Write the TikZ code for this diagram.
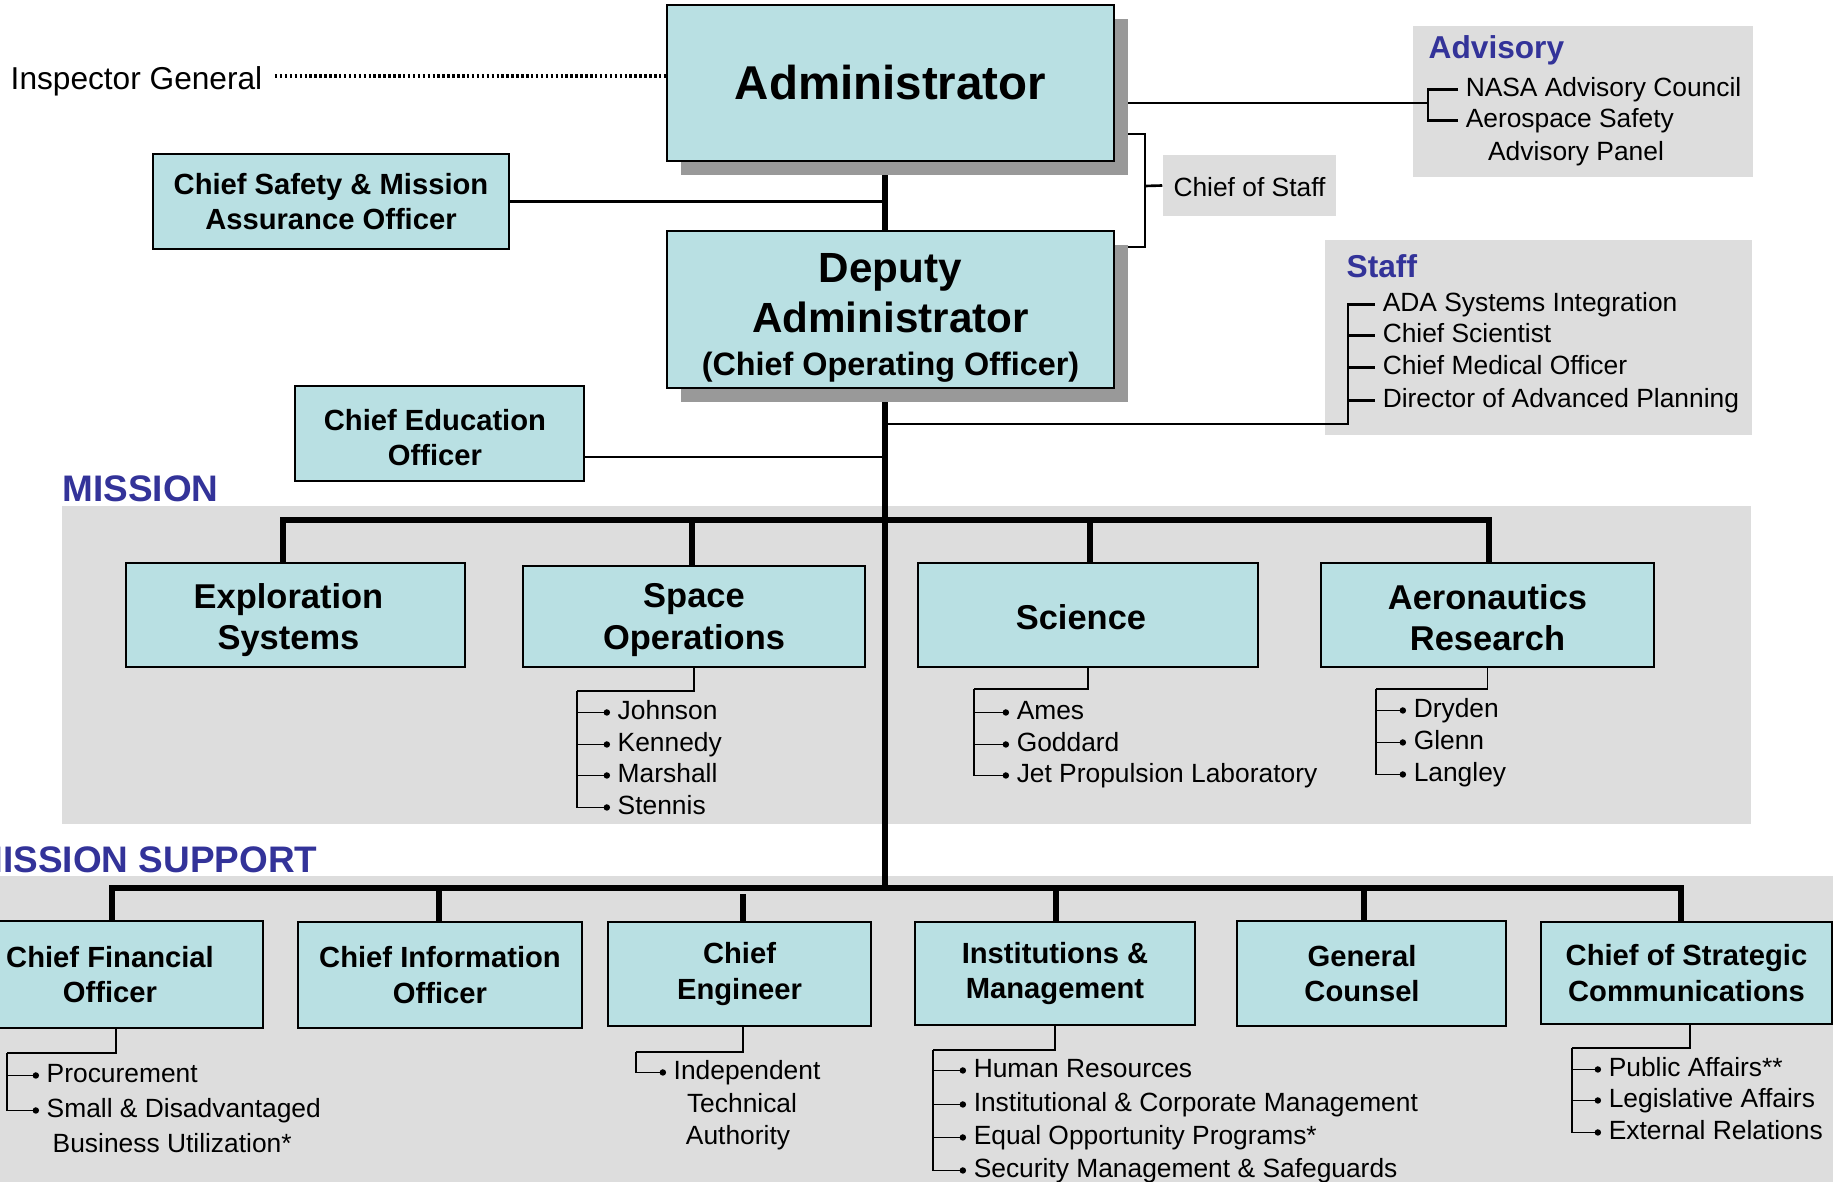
\documentclass[tikz,border=0pt]{standalone}
\usepackage{fontspec}
\setmainfont{Liberation Sans}
\usetikzlibrary{shadows,arrows.meta}

\definecolor{unitfill}{RGB}{185,224,227}
\definecolor{panelgray}{RGB}{221,221,221}
\definecolor{shadowgray}{RGB}{153,153,153}
\definecolor{headblue}{RGB}{51,51,153}

\pgfdeclarelayer{panels}
\pgfdeclarelayer{links}
\pgfsetlayers{panels,links,main}

% taller first line, so the text sits a little lower in its box
\newcommand{\lift}[1][1em]{\rule{0pt}{#1}}

\begin{document}
\begin{tikzpicture}[x=0.01cm, y=-0.01cm,
   unitbox/.style={draw, line width=0.6pt, fill=unitfill, align=center, inner sep=0pt},
   lifted/.style={drop shadow={shadow xshift=0.14cm, shadow yshift=-0.14cm, fill=shadowgray, opacity=1}},
   officebox/.style={unitbox, font=\fontsize{8.3}{10}\selectfont\bfseries},
   branchbox/.style={unitbox, font=\fontsize{9.8}{11.7}\selectfont\bfseries},
   entry/.style={anchor=west, inner sep=2pt, text height=5.6pt, text depth=1.6pt, yshift=-0.7pt,
     font=\fontsize{7.5}{9}\selectfont},
   panelhead/.style={anchor=west, inner sep=0pt, text=headblue, font=\fontsize{9}{11}\selectfont\bfseries},
   bandhead/.style={anchor=west, inner sep=0pt, text=headblue, font=\fontsize{10.5}{12}\selectfont\bfseries},
   busline/.style={line width=1.6pt},
   tie/.style={line width=0.75pt},
   twig/.style={line width=0.45pt},
   leaf/.style={twig, -{Circle[length=1.8pt]}}]
   \useasboundingbox (0,0) rectangle (1833,1182);
   \clip (0,0) rectangle (1833,1182);

   % top of the chart
   \node[unitbox, lifted, minimum width=4.47cm, minimum height=1.56cm,
     font=\fontsize{13.5}{16}\selectfont\bfseries] (admin) at (890.5,83) {Administrator};
   \node[unitbox, lifted, minimum width=4.47cm, minimum height=1.57cm,
     font=\fontsize{12}{14.2}\selectfont\bfseries] (deputy) at (890.5,309.5)
     {\lift[1.1em]Deputy\\Administrator\\[-2pt]{\fontsize{9.2}{11}\selectfont(Chief Operating Officer)}};
   \node[officebox, minimum width=3.56cm, minimum height=0.95cm] (safety) at (331,201.5)
     {Chief Safety \& Mission\\Assurance Officer};
   \node[officebox, minimum width=2.89cm, minimum height=0.95cm] (education) at (439.5,433.5)
     {\lift Chief Education\hspace*{2.6pt}\\Officer\hspace*{2.6pt}};
   \node[anchor=west, inner sep=0pt, font=\fontsize{9}{11}\selectfont] (ig) at (10,81.5) {Inspector General};
   \node[fill=panelgray, minimum width=1.73cm, minimum height=0.61cm, inner sep=0pt,
     font=\fontsize{7.5}{9}\selectfont] (cos) at (1249.5,185.5) {\lift[0.85em]Chief of Staff};

   \node[panelhead] (advisory) at (1428,50.5) {Advisory};
   \node[entry] (nac) at (1458,87) {NASA Advisory Council};
   \node[entry] (asap) at (1458,118) {Aerospace Safety};
   \node[entry, anchor=center] (asap2) at (1576,151) {Advisory Panel};

   \node[panelhead] (staff) at (1346,266) {Staff};
   \node[entry] (ada) at (1375,302) {ADA Systems Integration};
   \node[entry] (chsci) at (1375,333) {Chief Scientist};
   \node[entry] (cmo) at (1375,365) {Chief Medical Officer};
   \node[entry] (dap) at (1375,398) {Director of Advanced Planning};

   % mission
   \node[bandhead] (mission) at (62,489) {MISSION};
   \node[branchbox, minimum width=3.39cm, minimum height=1.04cm] (explo) at (295.5,615)
     {\lift Exploration\hspace*{4pt}\\Systems\hspace*{4pt}};
   \node[branchbox, minimum width=3.42cm, minimum height=1.01cm] (spaceops) at (694,616.5)
     {\lift[0.9em]Space\\Operations};
   \node[branchbox, minimum width=3.40cm, minimum height=1.04cm] (science) at (1088,615)
     {\lift[0.85em]Science\hspace*{4pt}};
   \node[branchbox, minimum width=3.33cm, minimum height=1.04cm] (aero) at (1487.5,615)
     {\lift[0.9em]Aeronautics\\Research};

   \node[entry] (johnson) at (610,710) {Johnson};
   \node[entry] (kennedy) at (610,742) {Kennedy};
   \node[entry] (marshall) at (610,773) {Marshall};
   \node[entry] (stennis) at (610,805) {Stennis};
   \node[entry] (ames) at (1009,710) {Ames};
   \node[entry] (goddard) at (1009,742) {Goddard};
   \node[entry] (jpl) at (1009,773) {Jet Propulsion Laboratory};
   \node[entry] (dryden) at (1406,708) {Dryden};
   \node[entry] (glenn) at (1406,740) {Glenn};
   \node[entry] (langley) at (1406,772) {Langley};

   % mission support
   \node[bandhead] (support) at (-28,860) {MISSION SUPPORT};
   \node[officebox, minimum width=3.06cm, minimum height=1.07cm] (cfo) at (110,974.5) {Chief Financial\\Officer};
   \node[officebox, minimum width=2.84cm, minimum height=1.06cm] (cio) at (440,975) {Chief Information\\Officer};
   \node[officebox, minimum width=2.63cm, minimum height=1.04cm] (ce) at (739.5,974) {Chief\\Engineer};
   \node[officebox, minimum width=2.80cm, minimum height=1.03cm] (im) at (1055,973.5) {Institutions \&\\Management};
   \node[officebox, minimum width=2.69cm, minimum height=1.05cm] (gc) at (1371.5,973.5)
     {General\hspace*{5.4pt}\\Counsel\hspace*{5.4pt}};
   \node[officebox, minimum width=2.91cm, minimum height=1.02cm] (csc) at (1686.5,973) {Chief of Strategic\\Communications};

   \node[entry] (procure) at (39,1073) {Procurement};
   \node[entry] (sdbu) at (39,1108) {Small \& Disadvantaged};
   \node[entry] (sdbu2) at (45,1143) {Business Utilization*};
   \node[entry] (ita) at (666,1070) {Independent};
   \node[entry, anchor=center] (ita2) at (742,1103) {Technical};
   \node[entry, anchor=center] (ita3) at (738,1135) {Authority};
   \node[entry] (hr) at (966,1068) {Human Resources};
   \node[entry] (icm) at (966,1102) {Institutional \& Corporate Management};
   \node[entry] (eop) at (966,1135) {Equal Opportunity Programs*};
   \node[entry] (sms) at (966,1168) {Security Management \& Safeguards};
   \node[entry] (pao) at (1601,1067) {Public Affairs**};
   \node[entry] (leg) at (1601,1098) {Legislative Affairs};
   \node[entry] (ext) at (1601,1130) {External Relations};

   \begin{pgfonlayer}{panels}
     \fill[panelgray] (1413,26) rectangle (1753,177);
     \fill[panelgray] (1325,240) rectangle (1752,435);
     \fill[panelgray] (62,506) rectangle (1751,824);
     \fill[panelgray] (0,876) rectangle (1833,1182);
   \end{pgfonlayer}

   \begin{pgfonlayer}{links}
     \coordinate (spine) at (885,888);
     \draw[busline] (spine |- admin.south) -- (spine);
     \coordinate (ig-e) at ([yshift=0.055cm]ig.east);
     \draw[line width=0.9pt, dash pattern=on 0.7pt off 0.7pt, shorten <=0.12cm]
       (ig-e) -- (ig-e -| admin.west);
     \draw[tie] (safety.east) -- (safety.east -| spine);
     \coordinate (edu-e) at ([yshift=-0.235cm]education.east);
     \draw[tie] (edu-e) -- (edu-e -| spine);

     % chief of staff, advisory and staff brackets
     \coordinate (cos-k) at (1145,186);
     \draw[tie] ([yshift=0.28cm]admin.south east) -| (cos-k) |- ([yshift=-0.17cm]deputy.north east);
     \draw[tie] (cos-k) -- (cos.west);
     \coordinate (adv-k) at (1428,103);
     \draw[tie] (adv-k -| admin.east) -- (adv-k);
     \draw[tie] (nac.west) -| (adv-k) |- (asap.west);
     \coordinate (st-k) at (1348,424);
     \draw[tie] (st-k -| spine) -- (st-k) |- (ada.west);
     \foreach \e in {chsci,cmo,dap}
       \draw[tie] (st-k |- \e.west) -- (\e.west);

     % mission bus
     \foreach \b/\x in {explo/283,spaceops/692,science/1090,aero/1489}
       \coordinate (m-\b) at (\x,520);
     \draw[busline] (m-explo |- explo.north) -- (m-explo) -- (m-aero) -- (m-aero |- aero.north);
     \foreach \b in {spaceops,science}
       \draw[busline] (m-\b) -- (m-\b |- \b.north);

     % support bus
     \foreach \b/\x in {cfo/112,cio/439,im/1056,gc/1364,csc/1681}
       \coordinate (s-\b) at (\x,888);
     \coordinate (s-ce) at (743,894);
     \draw[busline] (s-cfo |- cfo.north) -- (s-cfo) -- (s-csc) -- (s-csc |- csc.north);
     \foreach \b in {cio,ce,im,gc}
       \draw[busline] (s-\b) -- (s-\b |- \b.north);

     % centres and offices below the boxes
     \coordinate (so-k) at (577,691);
     \draw[twig] (spaceops.south) |- (so-k);
     \draw[leaf] (so-k) |- (stennis.west);
     \foreach \e in {johnson,kennedy,marshall}
       \draw[leaf] (so-k |- \e.west) -- (\e.west);
     \coordinate (sc-k) at (974,689);
     \draw[twig] (science.south) |- (sc-k);
     \draw[leaf] (sc-k) |- (jpl.west);
     \foreach \e in {ames,goddard}
       \draw[leaf] (sc-k |- \e.west) -- (\e.west);
     \coordinate (ar-k) at (1376,689);
     \draw[twig] (aero.south) |- (ar-k);
     \draw[leaf] (ar-k) |- (langley.west);
     \foreach \e in {dryden,glenn}
       \draw[leaf] (ar-k |- \e.west) -- (\e.west);
     \coordinate (cfo-k) at (7,1053);
     \draw[twig] ([xshift=0.06cm]cfo.south) |- (cfo-k);
     \draw[leaf] (cfo-k) |- (sdbu.west);
     \draw[leaf] (cfo-k |- procure.west) -- (procure.west);
     \coordinate (ce-k) at (636,1052);
     \draw[twig] ([xshift=0.035cm]ce.south) |- (ce-k);
     \draw[leaf] (ce-k) |- (ita.west);
     \coordinate (im-k) at (933,1050);
     \draw[twig] (im.south) |- (im-k);
     \draw[leaf] (im-k) |- (sms.west);
     \foreach \e in {hr,icm,eop}
       \draw[leaf] (im-k |- \e.west) -- (\e.west);
     \coordinate (csc-k) at (1572,1048);
     \draw[twig] ([xshift=0.035cm]csc.south) |- (csc-k);
     \draw[leaf] (csc-k) |- (ext.west);
     \foreach \e in {pao,leg}
       \draw[leaf] (csc-k |- \e.west) -- (\e.west);
   \end{pgfonlayer}
\end{tikzpicture}
\end{document}
